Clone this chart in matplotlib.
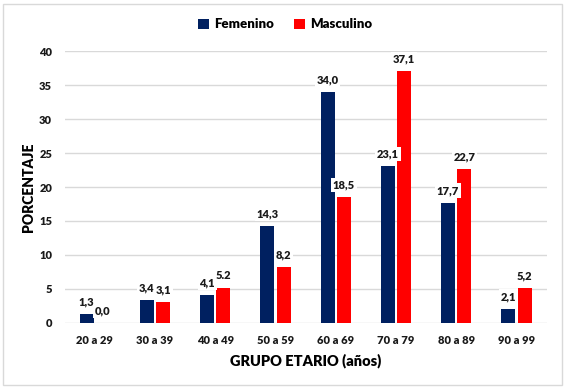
import numpy as np
import matplotlib
matplotlib.use('Agg')
import matplotlib.pyplot as plt
from matplotlib.patches import Rectangle

plt.rcParams['font.family'] = ['Lato', 'DejaVu Sans']

grupos = ['20 a 29', '30 a 39', '40 a 49', '50 a 59', '60 a 69', '70 a 79', '80 a 89', '90 a 99']
femenino = [1.3, 3.4, 4.1, 14.3, 34.0, 23.1, 17.7, 2.1]
masculino = [0.0, 3.1, 5.2, 8.2, 18.5, 37.1, 22.7, 5.2]
etiq_fem = ['1,3', '3,4', '4,1', '14,3', '34,0', '23,1', '17,7', '2,1']
etiq_masc = ['0,0', '3,1', '5.2', '8,2', '18,5', '37,1', '22,7', '5,2']

azul = '#002060'
rojo = '#ff0000'

fig = plt.figure(figsize=(5.67, 3.9), dpi=100)
ax = fig.add_axes([0.114, 0.172, 0.850, 0.697])

x = np.arange(len(grupos))
w = 0.23
off = 0.135
b1 = ax.bar(x - off, femenino, w, color=azul, label='Femenino', zorder=3)
b2 = ax.bar(x + off, masculino, w, color=rojo, label='Masculino', zorder=3)

caja = dict(boxstyle='square,pad=0.15', fc='white', ec='none')
for barras, etiquetas in ((b1, etiq_fem), (b2, etiq_masc)):
    for b, t in zip(barras, etiquetas):
        ax.annotate(t, (b.get_x() + b.get_width() / 2, b.get_height()),
                    xytext=(0, 12), textcoords='offset pixels',
                    ha='center', va='center', fontsize=8, fontweight='heavy',
                    color='#1a1a1a', bbox=caja, zorder=5, annotation_clip=False)

ax.set_xlim(-0.5, len(grupos) - 0.5)
ax.set_ylim(0, 40)
ax.set_yticks(np.arange(0, 41, 5))
ax.set_xticks(x)
ax.set_xticklabels(grupos)
ax.yaxis.grid(True, color='#d9d9d9', linewidth=1, zorder=0)
ax.set_axisbelow(True)
for s in ax.spines.values():
    s.set_visible(False)
ax.tick_params(length=0, labelsize=8, colors='#1a1a1a')
ax.tick_params(axis='y', pad=9)
ax.tick_params(axis='x', pad=9)
for lab in ax.get_xticklabels() + ax.get_yticklabels():
    lab.set_fontweight('heavy')

ax.set_xlabel('GRUPO ETARIO (años)', fontsize=10.5, fontweight='heavy', labelpad=5)
ax.set_ylabel('PORCENTAJE', fontsize=10, fontweight='heavy', labelpad=3)

fig.legend(loc='center', bbox_to_anchor=(0.503, 0.938), ncol=2, frameon=False,
           prop={'weight': 'heavy', 'size': 9.5}, handlelength=0.8, handleheight=0.8,
           handletextpad=0.4, columnspacing=1.5)

fig.patches.append(Rectangle((0.006, 0.014), 0.985, 0.977, transform=fig.transFigure,
                             fill=False, ec='#d9d9d9', lw=1))

fig.savefig('out.png', dpi=100)
